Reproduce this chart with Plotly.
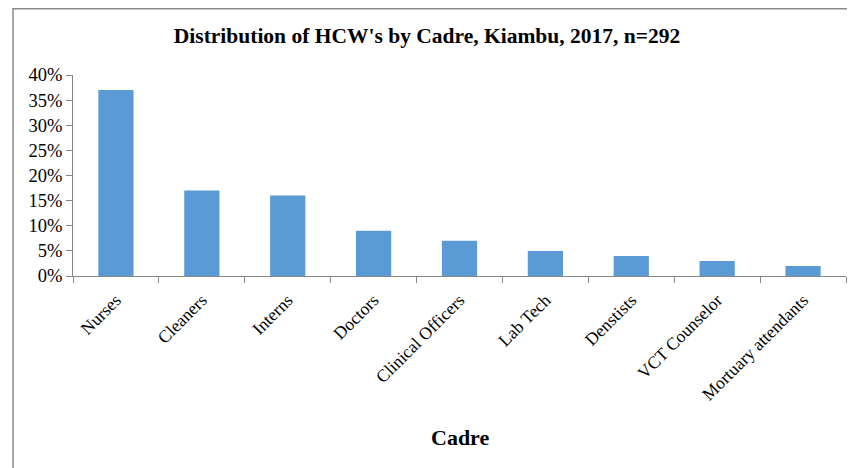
import plotly.graph_objects as go

categories = ["Nurses", "Cleaners", "Interns", "Doctors", "Clinical Officers",
              "Lab Tech", "Denstists", "VCT Counselor", "Mortuary attendants"]
percentages = [37, 17, 16, 9, 7, 5, 4, 3, 2]
y_ticks = [0, 5, 10, 15, 20, 25, 30, 35, 40]
y_tick_labels = [f"{v}%" for v in y_ticks]

title_text = "Distribution of HCW's by Cadre, Kiambu, 2017, n=292"
x_title = "Cadre"

bar_color = "#5B9BD5"
axis_color = "#868686"
font_family = "Liberation Serif, Times New Roman, serif"

fig = go.Figure(
    go.Bar(x=categories, y=percentages, marker=dict(color=bar_color, line=dict(width=0)))
)

W, H = 855, 468
OFF = 8  # page body margin offset in the browser
ml, mr, mt, mb = 73 - OFF, 9 + OFF, 75 - OFF, 192 + OFF
pw = W - ml - mr
ph = H - mt - mb

fig.update_layout(
    width=W, height=H,
    margin=dict(l=ml, r=mr, t=mt, b=mb, pad=0, autoexpand=False),
    paper_bgcolor="white", plot_bgcolor="white",
    bargap=0.59,
    showlegend=False,
    font=dict(family=font_family, color="black", size=17),
    title=dict(text="<b>" + title_text + "</b>", x=(427 - OFF) / W, xanchor="center",
               y=1 - (35 - OFF) / H, yanchor="middle",
               font=dict(family=font_family, size=21.5, color="black")),
)

fig.update_xaxes(
    type="category", automargin=False,
    showline=True, linecolor=axis_color, linewidth=1,
    ticks="outside", tickson="boundaries", ticklen=6, tickcolor=axis_color,
    ticklabelstandoff=6,
    tickangle=-45, tickfont=dict(family=font_family, size=17.5, color="black"),
    showgrid=False, zeroline=False,
)
fig.update_yaxes(
    range=[0, 40], tickvals=y_ticks, ticktext=y_tick_labels, automargin=False,
    showline=True, linecolor=axis_color, linewidth=1,
    ticks="outside", ticklen=6, tickcolor=axis_color,
    tickfont=dict(family=font_family, size=18.5, color="black"),
    showgrid=False, zeroline=False,
)

fig.add_annotation(text="<b>" + x_title + "</b>", xref="paper", yref="paper",
                   x=0.5, y=(H - mb - (437 - OFF)) / ph, xanchor="center", yanchor="middle",
                   showarrow=False, font=dict(family=font_family, size=22, color="black"))

# outer chart border (top and left edges visible)
bx0 = (13 - OFF - ml) / pw
by1 = (H - mb - (8 - OFF) - 0.75) / ph
fig.add_shape(type="rect", xref="paper", yref="paper",
              x0=bx0, x1=1.5, y0=-2, y1=by1,
              line=dict(color="#8a8a8a", width=1.5), fillcolor="rgba(0,0,0,0)", layer="below")

fig.write_html("out.html")
